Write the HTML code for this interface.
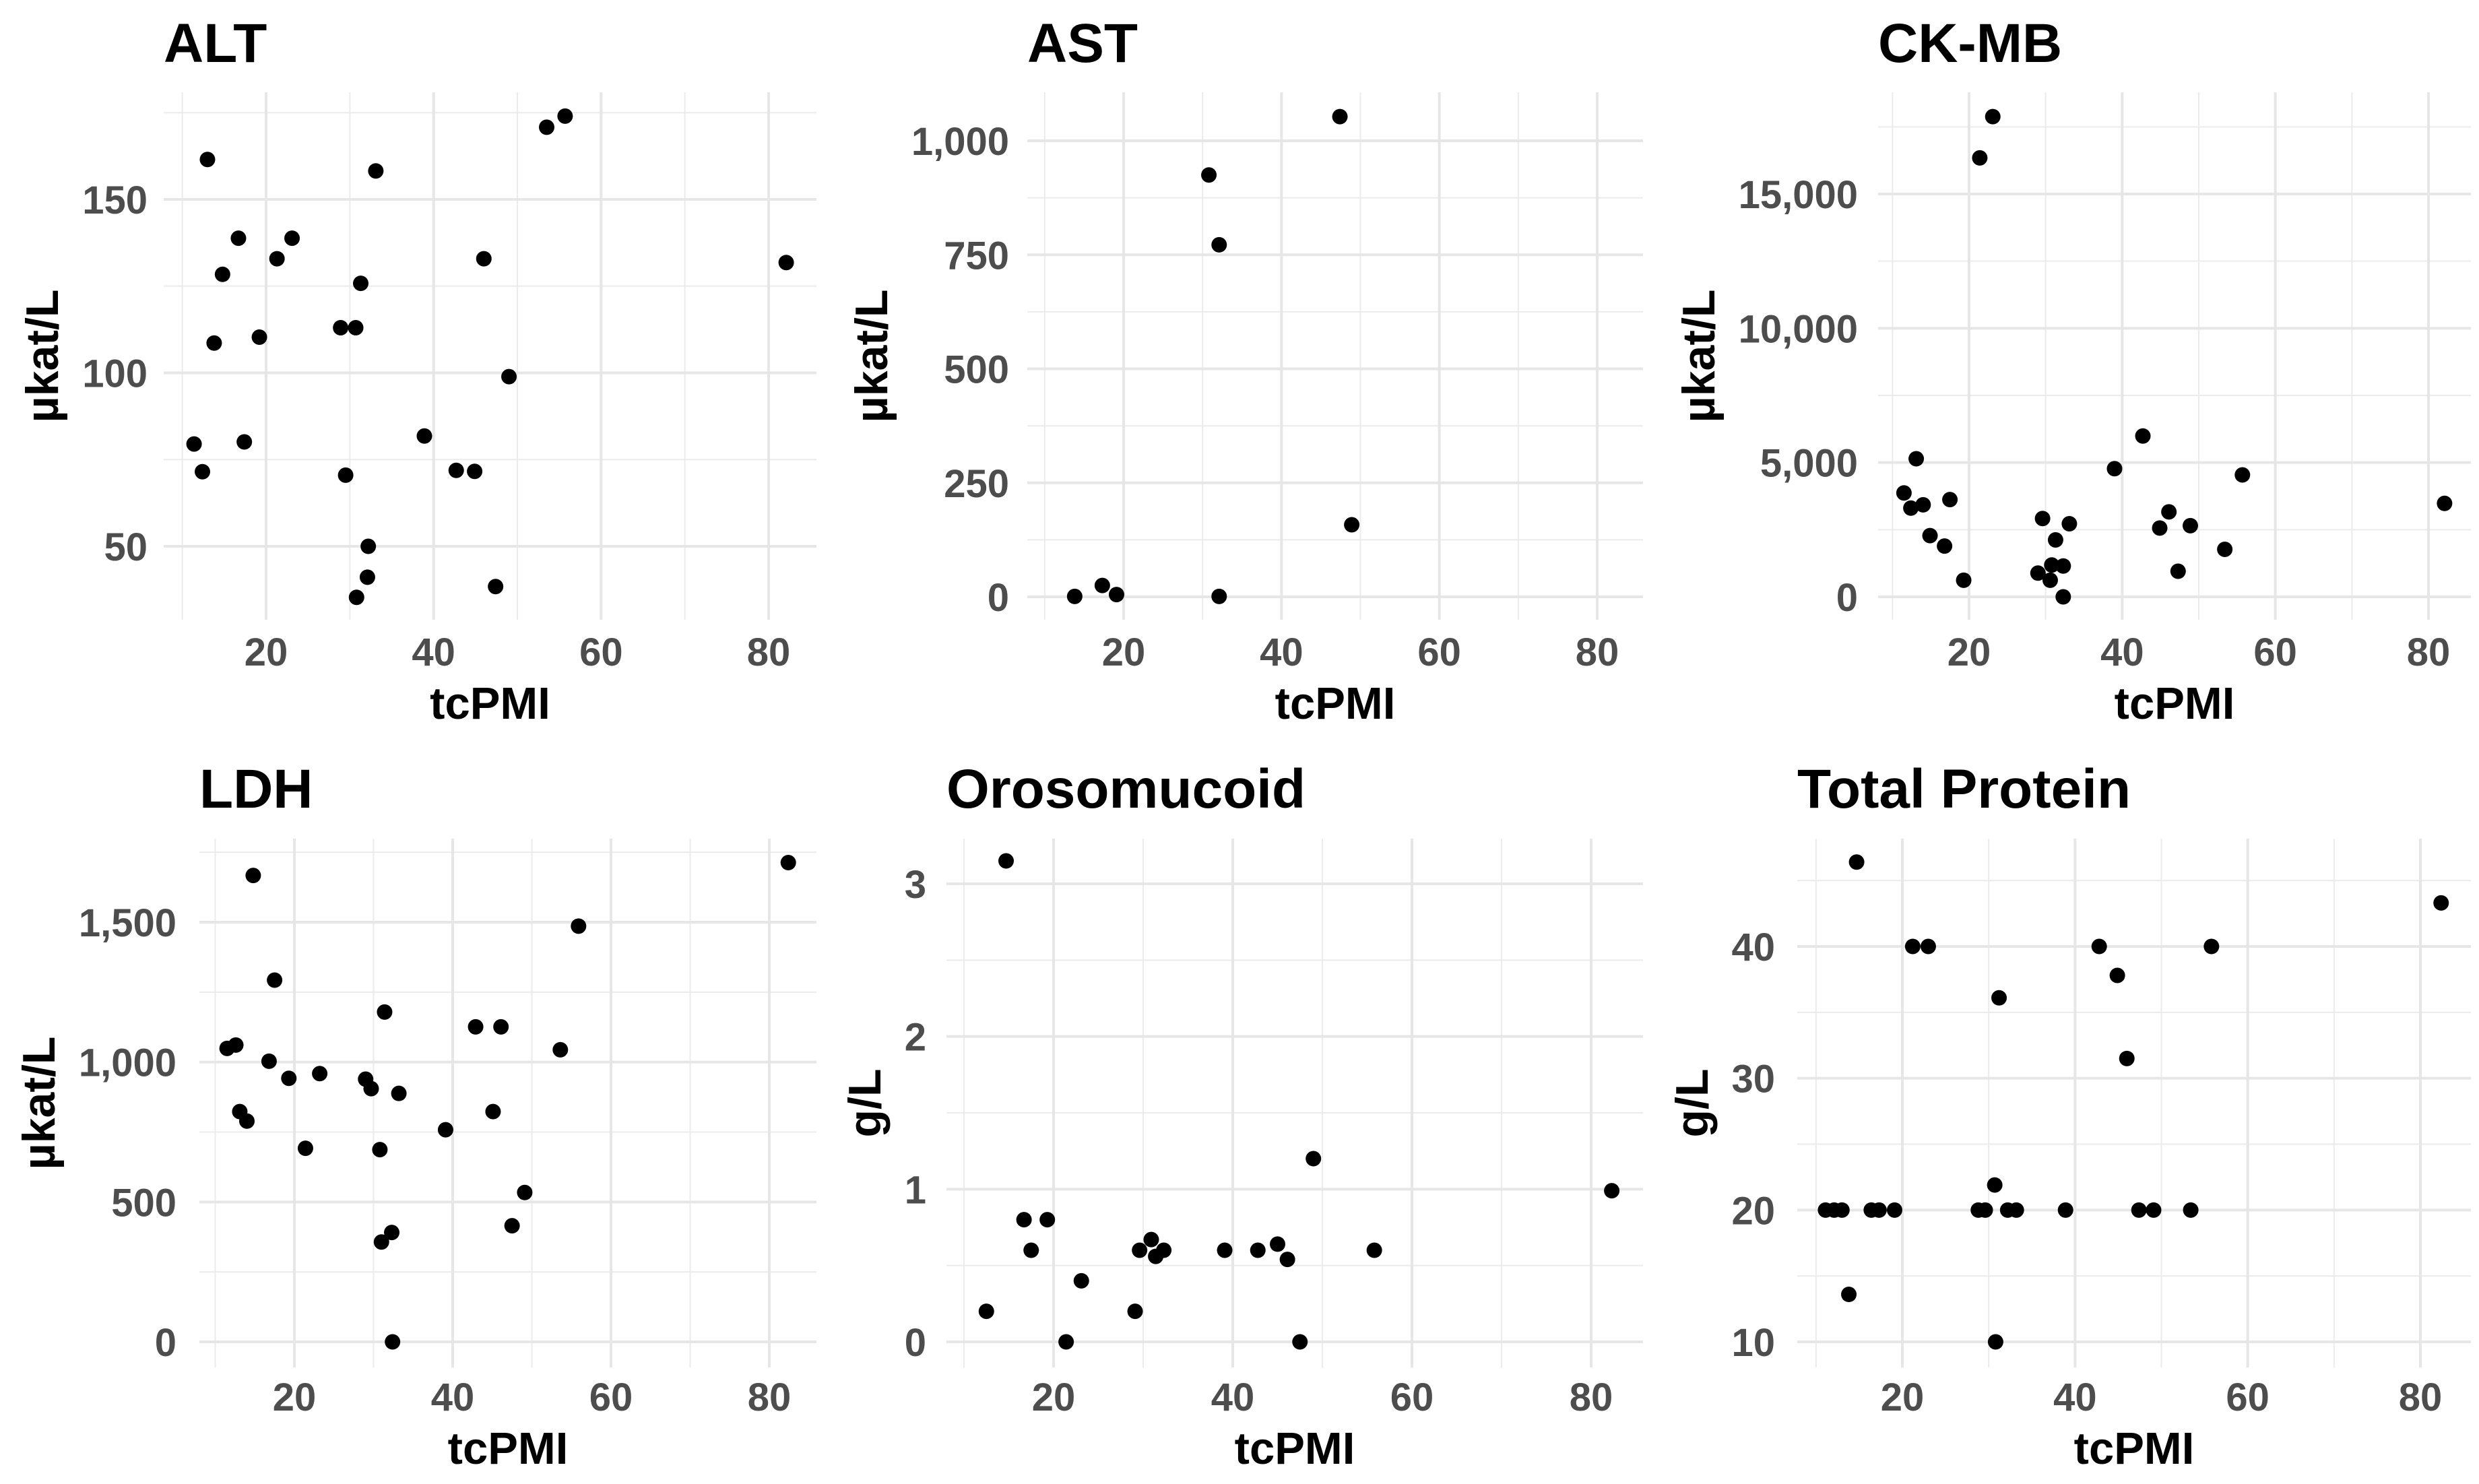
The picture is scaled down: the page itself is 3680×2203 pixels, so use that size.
<!DOCTYPE html>
<html><head><meta charset="utf-8">
<style>
html,body{margin:0;padding:0;background:#fff;}
svg{display:block;font-family:"Liberation Sans",Arial,sans-serif;}
</style></head>
<body>
<svg id="fig" width="3680" height="2203" viewBox="0 0 3680 2203" xmlns="http://www.w3.org/2000/svg"></svg>
<script>
// ---- data ----
const altX = [13.0,53.5,55.7,33.1,16.7,23.1,21.3,46.0,82.1,14.8,31.3,28.9,30.7,13.8,19.2,49.0,38.9,11.4,17.4,12.4,42.7,44.9,29.5,32.2,32.1,47.4,30.8];
const altY = [161.5,170.8,174,158.2,138.8,138.8,132.9,132.9,131.8,128.4,125.8,113,113,108.6,110.3,98.9,81.8,79.5,80.1,71.5,71.9,71.6,70.5,50,41.1,38.4,35.3];
const astX = [47.4,30.8,32.1,48.9,13.8,17.3,19.1,32.1];
const astY = [1053,925,772,158,1,25,5,1];
const ckX = [23.1,21.4,42.7,13.1,39.0,55.7,11.5,12.4,14.0,17.5,82.1,29.6,33.1,46.1,44.9,48.9,14.9,16.8,31.3,53.4,29.0,30.8,32.3,30.6,19.3,47.3,32.3];
const ckY = [17882,16345,5990,5142,4771,4541,3870,3304,3428,3622,3481,2916,2721,3163,2562,2650,2279,1891,2120,1767,884,1184,1149,618,618,954,0];
const ldhX = [82.4,14.8,55.9,17.5,31.4,42.9,46.1,53.6,11.5,12.6,16.8,19.3,23.2,29.0,29.7,33.2,13.1,14.0,45.1,39.1,21.4,30.8,49.1,47.5,31.0,32.3,32.4];
const ldhY = [1713,1667,1486,1293,1179,1126,1126,1044,1049,1061,1003,942,959,939,905,888,823,789,823,758,692,687,534,415,357,391,0];
const oroX = [14.7,49.0,82.3,16.7,19.3,17.5,30.9,29.6,31.4,32.3,39.1,42.8,45.0,46.1,55.8,23.1,12.5,29.1,21.4,47.5];
const oroY = [3.15,1.20,0.99,0.80,0.80,0.60,0.67,0.60,0.56,0.60,0.60,0.60,0.64,0.54,0.60,0.40,0.20,0.20,0,0];
const tpX = [14.7,82.4,21.2,23.0,42.8,55.8,44.9,31.2,46.0,30.7,11.1,12.1,13.0,16.4,17.3,19.1,28.8,29.6,32.2,33.2,38.9,47.4,49.1,53.4,13.8,30.8];
const tpY = [46.4,43.3,40,40,40,40,37.8,36.1,31.5,21.9,20,20,20,20,20,20,20,20,20,20,20,20,20,20,13.6,10];
const xTicks = [20,40,60,80];
const xMinor = [10,30,50,70];
const altTicks = [50,100,150]; const altMinor = [75,125,175];
const astTicks = [0,250,500,750,1000]; const astMinor = [125,375,625,875];
const ckTicks = [0,5000,10000,15000]; const ckMinor = [2500,7500,12500,17500];
const ldhTicks = [0,500,1000,1500]; const ldhMinor = [250,750,1250,1750];
const oroTicks = [0,1,2,3]; const oroMinor = [0.5,1.5,2.5];
const tpTicks = [10,20,30,40]; const tpMinor = [15,25,35,45];
const titles = ["ALT","AST","CK-MB","LDH","Orosomucoid","Total Protein"];
const yUnits = ["µkat/L","µkat/L","µkat/L","µkat/L","g/L","g/L"];

// ---- layout (pixel geometry, not data) ----
const panels = [
 {key:"alt", xs:altX, ys:altY, yt:altTicks, ym:altMinor, L:243,R:1212,T:137,B:920, xa:[20,395],xb:[80,1141], ya:[50,811],yb:[150,296], titleY:92, tickR:219, ytX:86, xlY:988, xtY:1067},
 {key:"ast", xs:astX, ys:astY, yt:astTicks, ym:astMinor, L:1525,R:2439,T:137,B:920, xa:[20,1668],xb:[80,2371], ya:[0,886],yb:[1000,209], titleY:92, tickR:1498, ytX:1317, xlY:988, xtY:1067},
 {key:"ckmb", xs:ckX, ys:ckY, yt:ckTicks, ym:ckMinor, L:2788,R:3668,T:137,B:920, xa:[20,2923],xb:[80,3605], ya:[0,886],yb:[15000,288], titleY:92, tickR:2758, ytX:2545, xlY:988, xtY:1067},
 {key:"ldh", xs:ldhX, ys:ldhY, yt:ldhTicks, ym:ldhMinor, L:296,R:1212,T:1245,B:2030, xa:[20,437],xb:[80,1142], ya:[0,1992],yb:[1500,1369], titleY:1199, tickR:262, ytX:81, xlY:2094, xtY:2173},
 {key:"orosomucoid", xs:oroX, ys:oroY, yt:oroTicks, ym:oroMinor, L:1405,R:2439,T:1245,B:2030, xa:[20,1564],xb:[80,2362], ya:[0,1992],yb:[3,1312], titleY:1199, tickR:1375, ytX:1307, xlY:2094, xtY:2173},
 {key:"total-protein", xs:tpX, ys:tpY, yt:tpTicks, ym:tpMinor, L:2668,R:3668,T:1245,B:2030, xa:[20,2824],xb:[80,3593], ya:[10,1992],yb:[40,1405], titleY:1199, tickR:2635, ytX:2535, xlY:2094, xtY:2173}
];
const NS = "http://www.w3.org/2000/svg";
const svg = document.getElementById('fig');
function mk(tag, attrs, parent){
  const e = document.createElementNS(NS, tag);
  for (const k in attrs) e.setAttribute(k, attrs[k]);
  parent.appendChild(e); return e;
}
function lin(a,b){ return v => a[1] + (v - a[0]) * (b[1]-a[1])/(b[0]-a[0]); }
function fmt(v){ return v.toLocaleString('en-US'); }

panels.forEach((p, i) => {
  const sx = lin(p.xa, p.xb), sy = lin(p.ya, p.yb);
  const g = mk('g', {}, svg);
  
  
  // minor grid
  p.ym.forEach(v => { const y = sy(v); if (y >= p.T && y <= p.B) {
    const l = mk('line', {x1:p.L,x2:p.R,y1:y,y2:y,stroke:'#ebebeb','stroke-width':2}, g);
      }});
  xMinor.forEach(v => { const x = sx(v); if (x >= p.L && x <= p.R) {
    const l = mk('line', {x1:x,x2:x,y1:p.T,y2:p.B,stroke:'#ebebeb','stroke-width':2}, g);
      }});
  // major grid + labels
  p.yt.forEach(v => { const y = sy(v);
    const l = mk('line', {x1:p.L,x2:p.R,y1:y,y2:y,stroke:'#e6e6e6','stroke-width':4}, g);
     
    const t = mk('text', {x:p.tickR,y:y+21,'text-anchor':'end','font-size':58,'font-weight':'bold',fill:'#4d4d4d'}, g);
    t.textContent = fmt(v);
     
  });
  xTicks.forEach(v => { const x = sx(v);
    const l = mk('line', {x1:x,x2:x,y1:p.T,y2:p.B,stroke:'#e6e6e6','stroke-width':4}, g);
     
    const t = mk('text', {x:x,y:p.xlY,'text-anchor':'middle','font-size':58,'font-weight':'bold',fill:'#4d4d4d'}, g);
    t.textContent = fmt(v);
     
  });
  // points
  p.xs.forEach((xv, j) => {
    const c = mk('circle', {cx:sx(xv), cy:sy(p.ys[j]), r:11.5, fill:'#000'}, g);
     
  });
  // titles
  const tt = mk('text', {x:p.L,y:p.titleY,'font-size':82,'font-weight':'bold',fill:'#000'}, g);
  tt.textContent = titles[i];
   
  const xt = mk('text', {x:(p.L+p.R)/2,y:p.xtY,'text-anchor':'middle','font-size':67,'font-weight':'bold',fill:'#000'}, g);
  xt.textContent = 'tcPMI';
   
  const cy = (p.T+p.B)/2;
  const yt = mk('text', {x:0,y:0,'text-anchor':'middle','font-size':68,'font-weight':'bold',fill:'#000',transform:`translate(${p.ytX},${cy}) rotate(-90)`}, g);
  yt.textContent = yUnits[i];
   
});
</script>
</body></html>
